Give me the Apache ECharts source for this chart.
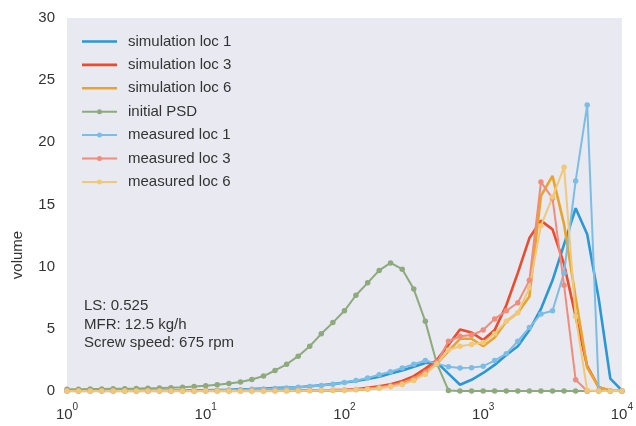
<!DOCTYPE html>
<html>
<head>
<meta charset="utf-8">
<script src="https://cdn.jsdelivr.net/npm/echarts@6/dist/echarts.min.js"></script>
<style>html,body{margin:0;padding:0;background:#fff}#c{width:636px;height:426px}</style>
</head>
<body>
<div id="c"></div>
<script>
// particle size bins (12 per decade)
const sizes = [1,1.21,1.47,1.78,2.15,2.61,3.16,3.83,4.64,5.62,6.81,8.25,
  10,12.1,14.7,17.8,21.5,26.1,31.6,38.3,46.4,56.2,68.1,82.5,
  100,121,147,178,215,261,316,383,464,562,681,825,
  1000,1210,1468,1778,2154,2610,3162,3831,4642,5623,6813,8254,10000];

const initialPSD = [0.15,0.15,0.16,0.17,0.18,0.19,0.2,0.22,0.24,0.27,0.3,0.36,
  0.42,0.5,0.6,0.72,0.92,1.2,1.65,2.15,2.8,3.6,4.6,5.5,
  6.45,7.7,8.7,9.7,10.3,9.8,8.2,5.6,2.2,0.05,0,0,
  0,0,0,0,0,0,0,0,0,0,0,0,0];

const simLoc1 = [0,0,0,0,0,0,0,0,0,0,0.02,0.04,
  0.06,0.08,0.1,0.13,0.16,0.2,0.24,0.28,0.3,0.38,0.46,0.55,
  0.68,0.8,0.97,1.15,1.4,1.65,1.95,2.25,2.3,1.4,0.5,0.9,
  1.45,2.1,2.9,3.6,4.9,6.6,8.9,11.8,14.7,12.6,7.4,1.0,0.05];

const simLoc3 = [0,0,0,0,0,0,0,0,0,0,0,0,
  0,0,0,0,0.01,0.01,0.02,0.03,0.04,0.05,0.06,0.07,
  0.09,0.14,0.25,0.38,0.55,0.8,1.2,1.8,2.5,3.7,4.95,4.7,
  4.1,4.9,6.9,9.5,12.3,13.7,13.0,10.2,6.0,2.0,0.3,0.02,0];

const simLoc6 = [0,0,0,0,0,0,0,0,0,0,0,0,
  0,0,0,0,0,0,0.01,0.01,0.02,0.02,0.03,0.03,
  0.04,0.08,0.15,0.27,0.42,0.65,1.0,1.55,2.2,3.2,4.2,4.2,
  3.6,4.3,5.6,6.3,7.6,15.7,17.3,13.4,7.5,1.9,0.3,0.02,0];

const measLoc1 = [0,0,0,0,0,0,0,0,0,0,0,0,
  0.05,0.07,0.09,0.11,0.14,0.17,0.2,0.25,0.3,0.37,0.45,0.55,
  0.68,0.85,1.05,1.3,1.55,1.85,2.15,2.45,2.2,1.95,1.85,1.88,
  2.0,2.45,3.0,4.0,5.1,6.2,6.45,9.5,16.9,23.0,0.05,0,0];

const measLoc3 = [0,0,0,0,0,0,0,0,0,0,0,0,
  0,0,0,0,0.01,0.01,0.02,0.02,0.03,0.04,0.05,0.06,
  0.08,0.12,0.18,0.28,0.42,0.6,0.95,1.5,2.3,4.0,4.4,4.5,
  4.9,5.8,6.45,7.1,8.9,16.8,15.5,8.5,0.9,0,0,0,0];

const measLoc6 = [0,0,0,0,0,0,0,0,0,0,0,0,
  0,0,0,0,0.01,0.01,0.01,0.02,0.02,0.03,0.04,0.05,
  0.06,0.1,0.15,0.23,0.35,0.52,0.85,1.35,2.2,3.3,3.6,3.75,
  3.9,4.6,5.6,6.3,8.3,13.3,15.6,18.0,6.0,0.05,0,0,0];

const yTicks = [0,5,10,15,20,25,30];
const annotation = ['LS: 0.525','MFR: 12.5 kg/h','Screw speed: 675 rpm'];

const zip = v => sizes.map((s,i)=>[s, v[i]]);
const FONT = 'Liberation Sans, Arial, sans-serif';
const ICON_LINE = 'path://M0,5.7 L35,5.7 L35,8.3 L0,8.3 Z M0,0 L0,0.01 Z M0,14 L0,13.99 Z';
const ICON_MARK = 'path://M0,6 L35,6 L35,8 L0,8 Z M17.5,4.5 A2.5,2.5 0 1 1 17.5,9.5 A2.5,2.5 0 1 1 17.5,4.5 Z M0,0 L0,0.01 Z M0,14 L0,13.99 Z';

function simSeries(name, vals, color){
  return {name, type:'line', data: zip(vals), symbol:'none', showSymbol:false,
    lineStyle:{color, width:2.6}, itemStyle:{color}, z:2, animation:false};
}
function measSeries(name, vals, color, z){
  return {name, type:'line', data: zip(vals), symbol:'circle', symbolSize:5.5, showSymbol:true,
    lineStyle:{color, width:2}, itemStyle:{color, borderWidth:0}, z:z||3, animation:false};
}
const legendNames = ['simulation loc 1','simulation loc 3','simulation loc 6','initial PSD','measured loc 1','measured loc 3','measured loc 6'];

const chart = echarts.init(document.getElementById('c'), null, {renderer:'canvas'});
chart.setOption({
  animation:false,
  textStyle:{fontFamily:FONT},
  grid:{left:67, right:11, top:18, bottom:35, show:true, backgroundColor:'#e9e9f1', borderWidth:0},
  xAxis:{type:'log', logBase:10, min:1, max:10000,
    axisLine:{show:false}, axisTick:{show:false}, splitLine:{show:false},
    axisLabel:{margin:11, color:'#333',
      formatter: v => '{b|10}{s|' + Math.round(Math.log10(v)) + '}',
      rich:{b:{fontSize:15, fontFamily:FONT, color:'#333', lineHeight:20, verticalAlign:'bottom'},
            s:{fontSize:10, fontFamily:FONT, color:'#333', lineHeight:20, verticalAlign:'top', padding:[0,0,8,0]}}}},
  yAxis:{type:'value', min:yTicks[0], max:yTicks[yTicks.length-1], interval:5,
    axisLine:{show:false}, axisTick:{show:false}, splitLine:{show:false},
    axisLabel:{fontSize:15, color:'#333', margin:12}},
  legend:{orient:'vertical', left:77, top:29, itemWidth:35, itemHeight:14, itemGap:8.4,
    textStyle:{fontSize:15, color:'#333', fontFamily:FONT, padding:[0,0,0,6]},
    data: legendNames.map((n,i)=>({name:n, icon: i<3 ? ICON_LINE : ICON_MARK}))},
  graphic:[
    {type:'text', left:84, top:297, style:{text:annotation.join('\n'), font:'15px '+FONT, fill:'#333', lineHeight:18.5}},
    {type:'text', x:18, y:255, rotation:Math.PI/2, style:{text:'volume', font:'15px '+FONT, fill:'#333', align:'center', verticalAlign:'middle'}}
  ],
  series:[
    simSeries('simulation loc 1', simLoc1, '#2a97d6'),
    simSeries('simulation loc 3', simLoc3, '#ee4a2c'),
    simSeries('simulation loc 6', simLoc6, '#eba42a'),
    measSeries('initial PSD', initialPSD, '#8daa7c', 3),
    measSeries('measured loc 1', measLoc1, '#7cbde6', 4),
    measSeries('measured loc 3', measLoc3, '#f08c7c', 4),
    measSeries('measured loc 6', measLoc6, '#f0c878', 4)
  ]
});
</script>
</body>
</html>
